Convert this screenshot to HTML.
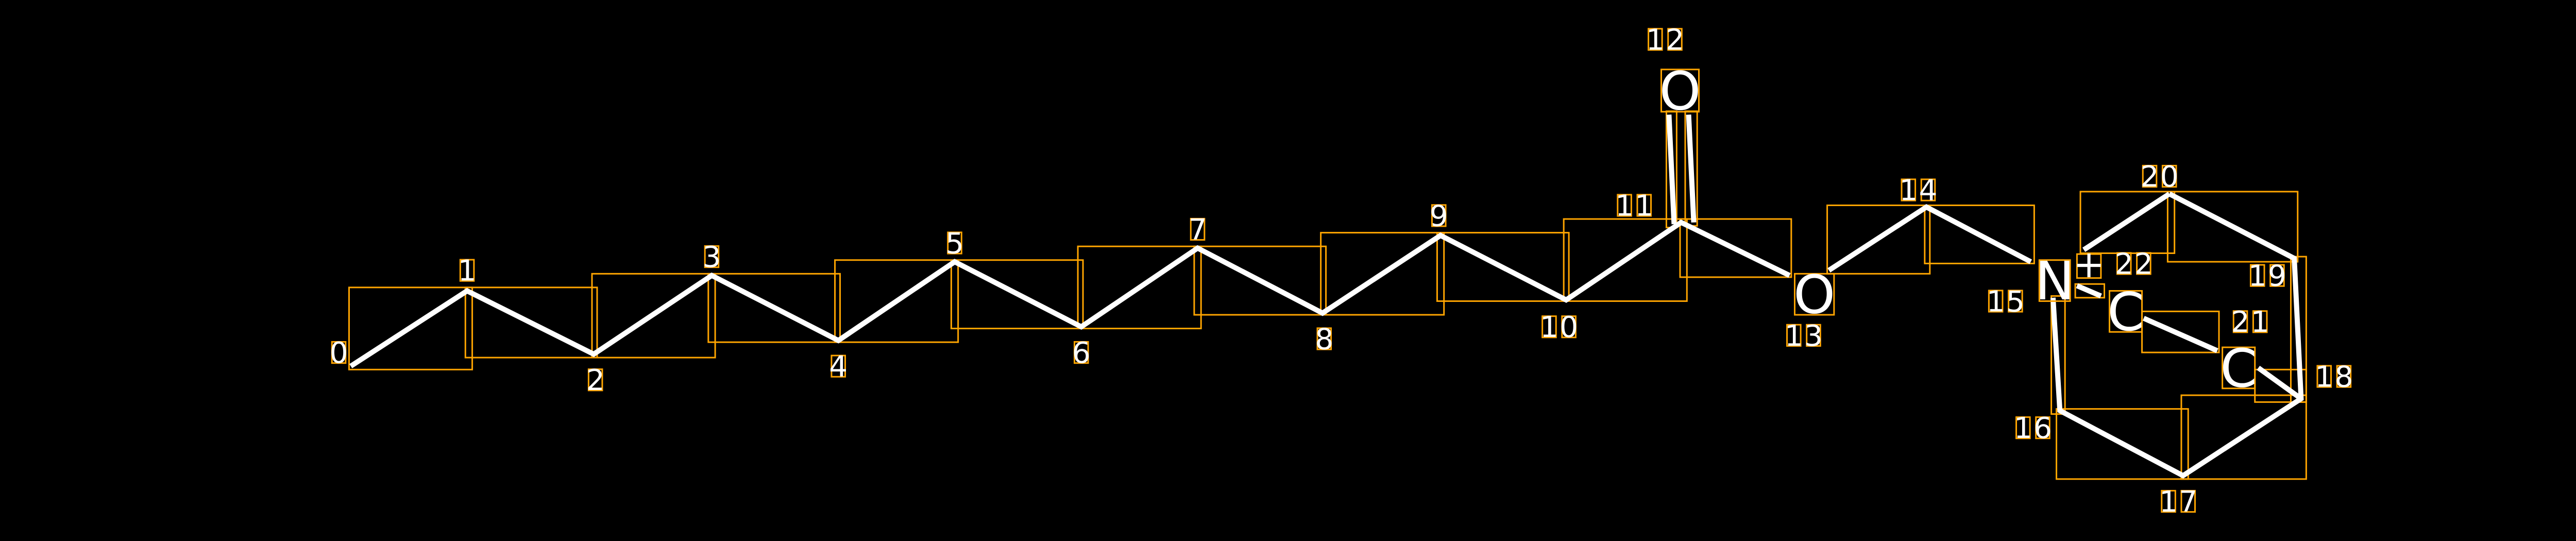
<!DOCTYPE html>
<html><head><meta charset="utf-8"><style>
html,body{margin:0;padding:0;background:#000;}
svg{display:block;}
text{font-family:"DejaVu Sans","Liberation Sans",sans-serif;fill:#fff;text-anchor:middle;}
.b{stroke:#fff;stroke-width:3;stroke-linecap:butt;fill:none;}
.o{stroke:#FFA500;stroke-width:0.9;fill:none;}
.i{font-size:17px;}
.a{font-size:31px;}
</style></head><body>
<svg width="5207" height="1050" viewBox="0 0 1568 316.2" xmlns="http://www.w3.org/2000/svg">
<rect x="0" y="0" width="1568" height="316.2" fill="#000"/>
<!-- bond boxes -->
<g class="o">
<rect x="204" y="168" width="72" height="48"/>
<rect x="272" y="168" width="77" height="41"/>
<rect x="346" y="160" width="72" height="49"/>
<rect x="414" y="160" width="77" height="40"/>
<rect x="488" y="152" width="72" height="48"/>
<rect x="556" y="152" width="77" height="40"/>
<rect x="630" y="144" width="72" height="48"/>
<rect x="698" y="144" width="77" height="40"/>
<rect x="772" y="136" width="72" height="48"/>
<rect x="840" y="136" width="77" height="40"/>
<rect x="914" y="128" width="72" height="48"/>
<rect x="974" y="65" width="6" height="68"/>
<rect x="985" y="65" width="7" height="67"/>
<rect x="982" y="128" width="65" height="34"/>
<rect x="1068" y="120" width="60" height="40"/>
<rect x="1125" y="120" width="64" height="34"/>
<rect x="1216" y="112" width="55" height="36"/>
<rect x="1267" y="112" width="76" height="41"/>
<rect x="1339" y="150" width="9" height="85"/>
<rect x="1275" y="231" width="73" height="49"/>
<rect x="1202" y="239" width="77" height="41"/>
<rect x="1199" y="173" width="8" height="69"/>
<rect x="1213" y="166" width="17" height="8"/>
<rect x="1252" y="182" width="45" height="24"/>
<rect x="1318" y="216" width="30" height="19"/>
</g>
<!-- bonds -->
<g class="b">
<polyline points="205,214 273,170 347,207 416,161 490,199 558,153 632,191 700,145 773,183 842,137.6 915.4,175.3 982.6,130 1046,161"/>
<line x1="975.5" y1="67" x2="978.5" y2="131"/>
<line x1="987" y1="67" x2="990" y2="130"/>
<polyline points="1069,158 1126,121 1187,153"/>
<line x1="1218" y1="146" x2="1268" y2="113.3"/>
<polyline points="1268,113.3 1341,151 1345,233 1276,278 1204,240 1200,174"/>
<line x1="1214" y1="167" x2="1228" y2="173"/>
<line x1="1253" y1="186" x2="1296" y2="205"/>
<line x1="1320" y1="215" x2="1345" y2="233"/>
</g>
<!-- atom boxes and labels -->
<g class="o">
<rect x="971" y="40.6" width="22" height="24.7"/>
<rect x="1049" y="160" width="23" height="24"/>
<rect x="1192" y="152" width="18" height="24"/>
<rect x="1214" y="148.5" width="14" height="14"/>
<rect x="1233" y="170" width="19" height="24"/>
<rect x="1299" y="203" width="19" height="24"/>
</g>
<text class="a" x="982" y="64">O</text>
<text class="a" x="1060.5" y="183">O</text>
<text class="a" x="1201" y="175">N</text>
<text x="1221" y="162" style="font-size:22px">+</text>
<text class="a" x="1242.5" y="193">C</text>
<text class="a" x="1308.5" y="226">C</text>
<!-- index labels -->
<g class="o">
<rect x="194" y="199.8" width="8" height="12.4"/>
<rect x="269" y="151.8" width="8" height="12.4"/>
<rect x="344" y="215.8" width="8" height="12.4"/>
<rect x="412" y="143.8" width="8" height="12.4"/>
<rect x="486" y="207.8" width="8" height="12.4"/>
<rect x="554" y="135.8" width="8" height="12.4"/>
<rect x="628" y="199.8" width="8" height="12.4"/>
<rect x="696" y="127.8" width="8" height="12.4"/>
<rect x="770" y="191.8" width="8" height="12.4"/>
<rect x="837" y="119.8" width="8" height="12.4"/>
<rect x="901.5" y="184.8" width="8" height="12.4"/><rect x="913" y="184.8" width="8" height="12.4"/>
<rect x="945.5" y="113.8" width="8" height="12.4"/><rect x="957" y="113.8" width="8" height="12.4"/>
<rect x="963.5" y="16.8" width="8" height="12.4"/><rect x="975" y="16.8" width="8" height="12.4"/>
<rect x="1044.5" y="189.8" width="8" height="12.4"/><rect x="1056" y="189.8" width="8" height="12.4"/>
<rect x="1111.5" y="104.8" width="8" height="12.4"/><rect x="1123" y="104.8" width="8" height="12.4"/>
<rect x="1162.5" y="169.8" width="8" height="12.4"/><rect x="1174" y="169.8" width="8" height="12.4"/>
<rect x="1178.5" y="243.8" width="8" height="12.4"/><rect x="1190" y="243.8" width="8" height="12.4"/>
<rect x="1263.5" y="286.8" width="8" height="12.4"/><rect x="1275" y="286.8" width="8" height="12.4"/>
<rect x="1354.5" y="213.8" width="8" height="12.4"/><rect x="1366" y="213.8" width="8" height="12.4"/>
<rect x="1315.5" y="154.8" width="8" height="12.4"/><rect x="1327" y="154.8" width="8" height="12.4"/>
<rect x="1252.5" y="96.8" width="8" height="12.4"/><rect x="1264" y="96.8" width="8" height="12.4"/>
<rect x="1305.5" y="181.8" width="8" height="12.4"/><rect x="1317" y="181.8" width="8" height="12.4"/>
<rect x="1237.5" y="147.8" width="8" height="12.4"/><rect x="1249" y="147.8" width="8" height="12.4"/>
</g>
<g class="i">
<text class="i" x="198" y="212">0</text>
<text class="i" x="273" y="164">1</text>
<text class="i" x="348" y="228">2</text>
<text class="i" x="416" y="156">3</text>
<text class="i" x="490" y="220">4</text>
<text class="i" x="558" y="148">5</text>
<text class="i" x="632" y="212">6</text>
<text class="i" x="700" y="140">7</text>
<text class="i" x="774" y="204">8</text>
<text class="i" x="841" y="132">9</text>
<text class="i" x="905.5" y="197">1</text><text class="i" x="917" y="197">0</text>
<text class="i" x="949.5" y="126">1</text><text class="i" x="961" y="126">1</text>
<text class="i" x="967.5" y="29">1</text><text class="i" x="979" y="29">2</text>
<text class="i" x="1048.5" y="202">1</text><text class="i" x="1060" y="202">3</text>
<text class="i" x="1115.5" y="117">1</text><text class="i" x="1127" y="117">4</text>
<text class="i" x="1166.5" y="182">1</text><text class="i" x="1178" y="182">5</text>
<text class="i" x="1182.5" y="256">1</text><text class="i" x="1194" y="256">6</text>
<text class="i" x="1267.5" y="299">1</text><text class="i" x="1279" y="299">7</text>
<text class="i" x="1358.5" y="226">1</text><text class="i" x="1370" y="226">8</text>
<text class="i" x="1319.5" y="167">1</text><text class="i" x="1331" y="167">9</text>
<text class="i" x="1256.5" y="109">2</text><text class="i" x="1268" y="109">0</text>
<text class="i" x="1309.5" y="194">2</text><text class="i" x="1321" y="194">1</text>
<text class="i" x="1241.5" y="160">2</text><text class="i" x="1253" y="160">2</text>
</g>
</svg>
</body></html>
